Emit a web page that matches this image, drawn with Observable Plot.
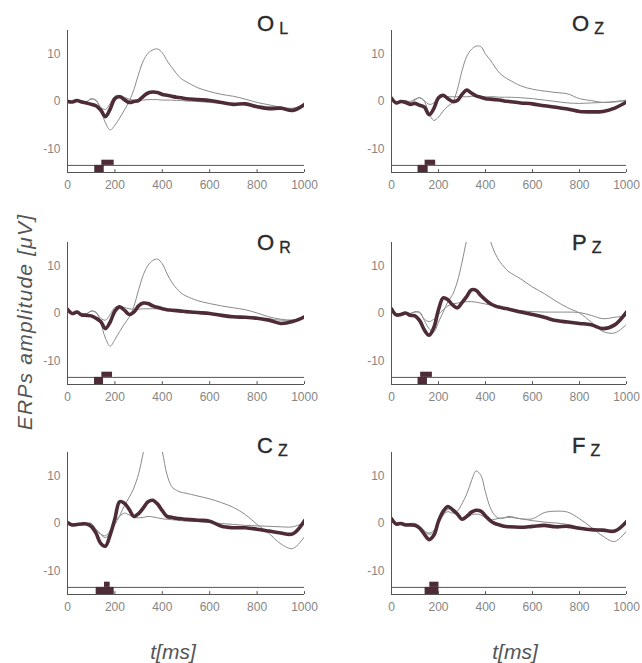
<!DOCTYPE html>
<html><head><meta charset="utf-8">
<script src="https://cdn.jsdelivr.net/npm/d3@7"></script>
<script src="https://cdn.jsdelivr.net/npm/@observablehq/plot@0.6"></script>
<style>
body{margin:0;background:#fff;}
#wrap{position:relative;width:642px;height:663px;font-family:"Liberation Sans",Arial,sans-serif;overflow:hidden;}
.panel{position:absolute;}
.title{position:absolute;font-size:22px;line-height:22px;color:#2a2a2a;white-space:nowrap;-webkit-text-stroke:0.4px #2a2a2a;}
.title span{font-size:16px;position:relative;top:3px;margin-left:5px;-webkit-text-stroke:0.3px #2a2a2a;}
.ylab{position:absolute;left:25px;top:322px;transform:translate(-50%,-50%) rotate(-90deg);font-style:italic;font-size:21px;letter-spacing:1.2px;color:#555;white-space:nowrap;}
.xlab{position:absolute;top:640px;transform:translateX(-50%);font-style:italic;font-size:21px;color:#555;white-space:nowrap;}
</style></head>
<body><div id="wrap"></div>
<script>
const T = [0,20,40,60,80,100,120,140,160,180,200,220,240,260,280,300,320,340,360,380,400,420,440,460,480,500,550,600,650,700,750,800,850,900,950,1000];
const xTicks = [0,200,400,600,800,1000];
const yTicks = [-10,0,10];
const names = ["O","O","O","P","C","F"];
const subs = ["L","Z","R","Z","Z","Z"];

const OL_peak = [0,0,0.1,0.1,0,0.5,0.3,-1.8,-4.5,-6.0, -5.0,-3.5,-1.8,0,2.5,5.8,8.6,10.2,10.9,11.1, 10.3,8.6,7.2,5.9,4.8,4.2, 2.9,2.1,1.5,1.1,0.5,-0.2,-0.7,-1.2,-1.5,-0.6];
const OL_flat = [0,-0.1,0.1,-0.1,-0.1,0.6,0.2,-1.2,-1.7,-0.4, 1.1,1.3,0.9,0.5,0.3,0.3,0.3,0.4,0.4,0.4, 0.3,0.3,0.3,0.2,0.2,0.1, 0,-0.2,-0.4,-0.6,-0.7,-0.9,-1.1,-1.3,-1.4,-0.8];
const OL_thick = [0,-0.1,0.2,-0.1,-0.3,-0.6,-0.9,-1.8,-3.2,-1.6, 0.6,1.0,0.4,-0.2,0.0,0.2,1.1,1.8,2.0,1.9, 1.5,1.3,1.1,0.9,0.8,0.6, 0.4,0.2,-0.2,-0.6,-0.5,-1.1,-1.5,-1.4,-1.9,-0.6];

const OZ_peak = [0.5,0,0,0.1,0,0.5,0.8,0,-2.5,-4.0, -3.3,-2.0,-1.0,-0.2,2.5,6.5,9.5,11.0,11.7,11.6, 10.0,8.8,7.3,6.0,5.2,4.6, 3.3,2.6,2.2,1.9,1.6,0.6,0.2,-0.2,0,0.3];
const OZ_flat = [0.5,-0.2,0,0.2,-0.2,0.3,0.8,0.2,-0.6,-0.3, 0.8,1.1,1.0,1.0,1.0,1.0,1.0,1.1,1.1,1.0, 1.0,1.0,1.0,0.9,0.9,0.9, 0.8,0.6,0.3,0.0,-0.3,-0.4,-0.3,-0.2,-0.1,0.2];
const OZ_thick = [0.7,-0.3,0,-0.2,-0.6,-0.4,-0.8,-1.2,-2.8,-1.5, 0.8,1.3,0.6,0,0.2,1.5,2.4,1.8,1.2,0.9, 0.6,0.5,0.4,0.3,0.1,0, -0.3,-0.5,-0.9,-1.2,-1.6,-2.1,-2.2,-2.1,-1.4,-0.1];

const OR_peak = [0.5,0,0,0,0,0.5,0.3,-2,-5.2,-6.9, -5.5,-3.8,-2.2,-0.8,1.5,5.0,8.2,10.2,11.2,11.5, 10.5,8.4,6.6,5.3,4.3,3.7, 2.7,2.1,1.6,1.2,0.8,0.1,-0.7,-1.2,-1.4,-0.9];
const OR_flat = [0.6,-0.1,0.1,-0.1,-0.1,0.5,0.2,-1.0,-1.4,-0.2, 1.3,1.5,1.3,1.0,0.9,0.9,1.0,1.0,1.0,1.0, 0.9,0.8,0.7,0.6,0.5,0.4, 0.2,0,-0.2,-0.5,-0.7,-0.9,-1.2,-1.4,-1.4,-0.9];
const OR_thick = [0.9,0,0.3,-0.3,-0.4,-0.5,-1.0,-1.7,-3.2,-1.8, 0.5,1.4,0.7,-0.2,0.3,1.6,2.2,2.1,1.6,1.3, 1.0,0.8,0.7,0.6,0.5,0.4, 0.2,0,-0.4,-0.7,-0.8,-1.0,-1.4,-2.1,-1.7,-0.7];

const PZ_peak = [1,0,0,0,0,0.4,0.3,-1.5,-3.2,-3.9, -1.8,0.3,2.5,4.0,6.7,10.8,15.5,19,21,21, 19.5,15.5,12.8,11.0,9.8,8.8, 7.3,5.6,4.2,2.6,1.2,0.1,-1.8,-3.8,-4.1,-2.3];
const PZ_flat = [1,0,0,0.2,0,0.3,0.1,-1.2,-1.7,-1.2, -0.2,0.8,1.6,2.0,2.2,2.4,2.5,2.5,2.4,2.2, 2.0,1.8,1.6,1.4,1.2,1.0, 0.6,0.4,0.3,0.3,0.3,0.2,-0.4,-1.1,-0.8,-0.5];
const PZ_thick = [1.0,-0.3,-0.2,0.1,-0.4,-0.5,-1.5,-3.5,-4.6,-3.0, 0.8,3.3,2.9,1.8,1.2,2.3,3.6,5.0,4.9,3.8, 2.9,2.1,1.6,1.3,1.1,0.9, 0.3,-0.2,-0.8,-1.5,-1.8,-2.1,-2.4,-3.2,-2.4,0.3];

const CZ_peak = [0,0,0,0,0,0,-1.2,-2.3,-3.0,-2.0, -0.2,1.6,3.8,5.5,7.5,10.5,15,19,21,19, 15.2,10.3,7.8,7.0,6.6,6.4, 5.8,5.2,4.4,3.4,1.9,-0.2,-2.1,-4.3,-5.3,-2.8];
const CZ_flat = [0,0,0,0,0,0,-1.2,-2.2,-2.6,-1.5, 0.5,1.5,2.2,1.8,1.3,1.2,1.3,1.5,1.4,1.2, 1.0,0.9,0.8,0.7,0.6,0.5, 0.4,0.2,0,-0.2,-0.4,-0.5,-0.6,-0.7,-0.7,0.2];
const CZ_thick = [0.2,-0.3,-0.2,-0.1,-0.1,-0.6,-2.0,-4.2,-4.8,-2.4, 1.0,4.6,4.3,3.0,1.5,2.1,3.3,4.6,4.9,4.1, 2.7,1.5,1.3,1.1,1.0,0.9, 0.7,0.5,-0.6,-0.9,-0.9,-1.2,-1.6,-2.0,-2.2,0.6];

const FZ_peak = [0.5,0,0,0,0,0,-0.6,-1.6,-2.3,-1.8, 0.2,1.8,2.5,2.2,2.6,4.2,6.2,9.0,11.1,10.2, 6.6,3.4,1.7,1.1,1.2,1.5, 1.0,1.0,2.3,2.6,2.4,1.0,-0.8,-2.7,-3.8,-1.6];
const FZ_flat = [0.5,0,0,0,0,0,-0.6,-1.6,-2.0,-1.5, 0,1.8,3.0,3.0,1.8,1.0,1.2,1.8,2.0,1.8, 1.2,0.8,0.9,1.1,1.2,1.3, 1.0,0.6,0.3,0.1,-0.2,-0.8,-1.2,-1.5,-1.5,0];
const FZ_thick = [1.0,-0.1,0,-0.3,-0.3,-0.4,-1.0,-2.3,-3.4,-2.5, 0.5,2.6,3.6,2.9,2.0,0.9,1.5,2.4,2.8,2.6, 1.6,0.6,0,-0.3,-0.6,-0.7, -0.8,-0.6,-0.4,-0.7,-0.6,-1.0,-1.3,-1.4,-1.6,0.4];

const peaks = [OL_peak, OZ_peak, OR_peak, PZ_peak, CZ_peak, FZ_peak];
const flats = [OL_flat, OZ_flat, OR_flat, PZ_flat, CZ_flat, FZ_flat];
const thicks = [OL_thick, OZ_thick, OR_thick, PZ_thick, CZ_thick, FZ_thick];
const lowBars = [[115,155],[113,156],[114,152],[113,153],[121,197],[143,202]];
const highBars = [[145,197],[143,188],[145,190],[124,174],[156,180],[163,202]];

// layout (pixels)
const svgTop = [0, 212, 422];
const titleTop = [13, 232, 435];
const titleLeft = [257, 572];

const wrap = document.getElementById("wrap");
const FONT = "'Liberation Sans', Arial, sans-serif";
const THIN = "#8a8a8a", THICK = "#4e2c37", AXIS = "#555";

for (let i = 0; i < 6; i++) {
  const col = i % 2, row = Math.floor(i / 2);
  const rows = arr => T.map((t, k) => ({t, v: arr[k]}));
  const plot = Plot.plot({
    width: 321, height: 211,
    marginLeft: col ? 70 : 67, marginRight: col ? 16 : 17,
    marginTop: 30, marginBottom: 39,
    style: {fontFamily: FONT, fontSize: "12px", color: "#858585", background: "transparent", overflow: "visible"},
    x: {domain: [0, 1000], ticks: xTicks, tickSize: 0, tickPadding: 8, tickFormat: d => String(d), label: null},
    y: {domain: [-15, 15], ticks: yTicks, tickSize: 0, tickPadding: 7, tickFormat: d => String(d), label: null},
    marks: [
      Plot.ruleY([-13.5], {x1: 0, x2: 1000, stroke: AXIS, strokeWidth: 1}),
      Plot.rect([lowBars[i]], {x1: d => d[0], x2: d => d[1], y1: () => -15, y2: () => -13.5, fill: THICK}),
      Plot.rect([highBars[i]], {x1: d => d[0], x2: d => d[1], y1: () => -13.5, y2: () => -12.4, fill: THICK}),
      Plot.line(rows(peaks[i]), {x: "t", y: "v", stroke: THIN, strokeWidth: 1, curve: "catmull-rom", clip: true}),
      Plot.line(rows(flats[i]), {x: "t", y: "v", stroke: THIN, strokeWidth: 1, curve: "catmull-rom", clip: true}),
      Plot.line(rows(thicks[i]), {x: "t", y: "v", stroke: THICK, strokeWidth: 3.6, curve: "catmull-rom", clip: true}),
      Plot.ruleX([0], {y1: -15, y2: 15, stroke: AXIS, strokeWidth: 1}),
      Plot.ruleY([-15], {x1: 0, x2: 1000, stroke: AXIS, strokeWidth: 1}),
      Plot.ruleX(xTicks, {y1: -15, y2: -14.4, stroke: AXIS, strokeWidth: 1})
    ]
  });
  const holder = document.createElement("div");
  holder.className = "panel";
  holder.style.left = (col * 321) + "px";
  holder.style.top = svgTop[row] + "px";
  holder.appendChild(plot);
  wrap.appendChild(holder);

  const title = document.createElement("div");
  title.className = "title";
  title.style.left = titleLeft[col] + "px";
  title.style.top = titleTop[row] + "px";
  title.textContent = names[i];
  const s = document.createElement("span");
  s.textContent = subs[i];
  title.appendChild(s);
  wrap.appendChild(title);
}

const yl = document.createElement("div");
yl.className = "ylab";
yl.textContent = "ERPs amplitude [\u03bcV]";
wrap.appendChild(yl);

[173, 515].forEach(x => {
  const xl = document.createElement("div");
  xl.className = "xlab";
  xl.style.left = x + "px";
  xl.textContent = "t[ms]";
  wrap.appendChild(xl);
});
</script>
</body></html>
